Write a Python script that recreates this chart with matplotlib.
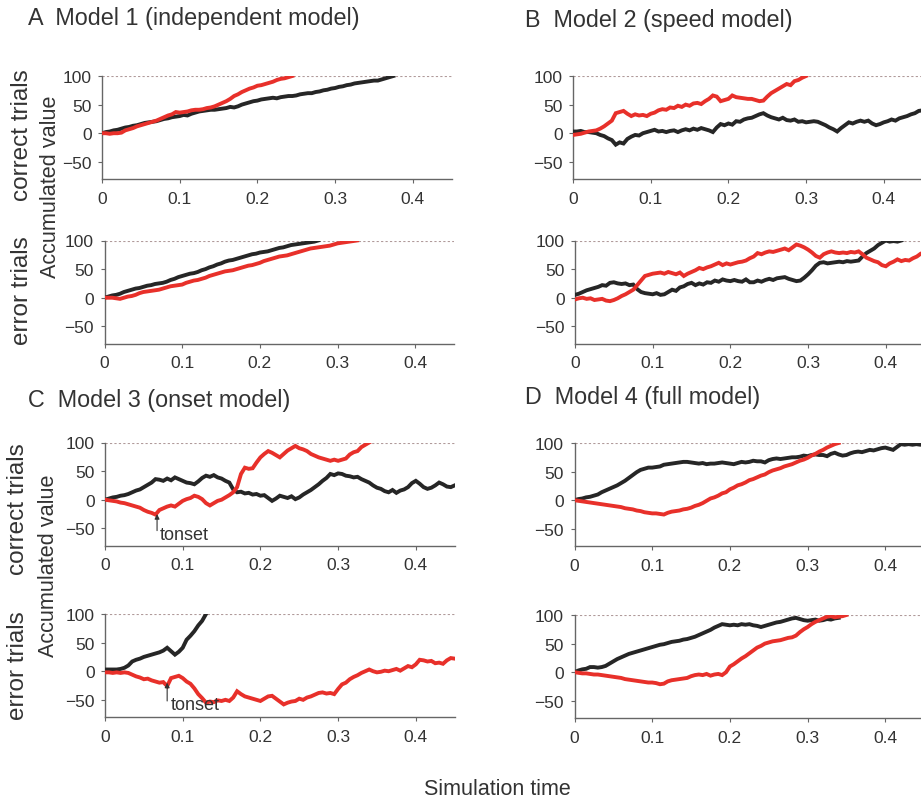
import numpy as np
import matplotlib
matplotlib.use("Agg")
import matplotlib.pyplot as plt

plt.rcParams["font.family"] = ["Liberation Sans", "DejaVu Sans"]

DT = 0.005          # sampling step of the accumulators (s)
BOUND = 100         # decision threshold

# accumulated value traces, one sample every DT seconds from t = 0
# Model 1 (independent model)
m1_correct_black = [0, 2, 3, 5, 6, 8, 10, 11, 13, 14, 16, 18, 19, 20, 21, 23, 25, 26, 28, 29,
                    30, 32, 31, 34, 36, 38, 39, 40, 41, 41, 42, 43, 44, 46, 45, 47, 50, 52, 54, 56,
                    57, 59, 60, 61, 62, 61, 63, 64, 65, 65, 66, 68, 69, 70, 70, 72, 73, 75, 76, 78,
                    79, 81, 82, 84, 85, 87, 88, 89, 90, 91, 92, 92, 94, 96, 98, 100]
m1_correct_red = [0, 0, -1, 0, 0, 1, 5, 7, 9, 12, 14, 16, 18, 20, 22, 25, 28, 31, 33, 37,
                  36, 37, 38, 40, 41, 41, 42, 44, 45, 47, 50, 53, 56, 60, 65, 68, 72, 75, 78, 80,
                  83, 84, 86, 88, 90, 93, 95, 96, 98, 100]
m1_error_black = [0, 2, 4, 5, 7, 10, 12, 14, 16, 17, 19, 21, 22, 24, 25, 26, 28, 31, 33, 36,
                  38, 40, 42, 43, 45, 48, 50, 53, 55, 58, 60, 63, 65, 66, 68, 70, 72, 74, 76, 77,
                  79, 80, 81, 83, 85, 87, 88, 90, 92, 93, 94, 95, 96, 97, 98, 100]
m1_error_red = [0, 0, 0, -1, -2, 0, 2, 3, 5, 8, 10, 11, 12, 13, 14, 16, 18, 20, 21, 22,
                23, 26, 28, 30, 31, 33, 35, 38, 40, 42, 44, 46, 47, 48, 50, 52, 54, 56, 57, 59,
                61, 64, 66, 68, 70, 72, 73, 74, 76, 78, 80, 82, 84, 86, 87, 88, 89, 90, 91, 93,
                95, 96, 97, 98, 99, 100]

# Model 2 (speed model)
m2_correct_black = [3, 3, 4, 2, 2, 1, 0, -3, -5, -9, -12, -20, -16, -18, -10, -6, -3, -4, 0, 2,
                    4, 6, 3, 4, 2, 4, 5, 2, 5, 7, 5, 8, 6, 9, 7, 5, 2, 10, 16, 14,
                    17, 15, 21, 20, 24, 26, 27, 30, 33, 35, 31, 28, 26, 24, 27, 23, 22, 24, 20, 21,
                    19, 20, 21, 20, 17, 14, 10, 7, 3, 9, 14, 19, 17, 20, 22, 20, 22, 17, 14, 16,
                    19, 21, 24, 22, 26, 28, 30, 33, 35, 39, 40]
m2_correct_red = [-3, -2, -1, 1, 3, 4, 5, 8, 12, 17, 22, 35, 37, 39, 34, 30, 33, 31, 32, 30,
                  34, 36, 40, 42, 41, 45, 44, 48, 46, 50, 48, 52, 53, 51, 56, 60, 66, 64, 56, 58,
                  60, 66, 63, 62, 61, 60, 60, 58, 56, 57, 64, 70, 74, 78, 82, 86, 84, 91, 93, 97,
                  100]
m2_error_black = [5, 7, 10, 13, 15, 17, 19, 22, 21, 26, 27, 25, 24, 25, 22, 23, 15, 10, 8, 7,
                  6, 8, 5, 6, 10, 14, 12, 18, 20, 24, 26, 22, 25, 23, 27, 26, 30, 28, 32, 30,
                  29, 31, 29, 28, 32, 27, 27, 30, 28, 31, 33, 31, 34, 35, 36, 33, 31, 29, 30, 35,
                  41, 48, 56, 61, 62, 60, 61, 62, 63, 62, 64, 63, 64, 65, 72, 78, 82, 86, 92, 96,
                  100, 98, 99, 98, 100]
m2_error_red = [-3, -1, 0, -2, -1, -4, -3, -2, -5, -6, -4, -1, 3, 6, 10, 14, 22, 30, 38, 40,
                42, 43, 44, 42, 45, 43, 41, 44, 38, 42, 45, 48, 52, 50, 53, 55, 58, 61, 57, 60,
                58, 60, 62, 63, 65, 69, 72, 78, 76, 79, 81, 80, 82, 84, 86, 83, 88, 93, 91, 88,
                84, 79, 73, 70, 76, 79, 81, 79, 78, 79, 78, 80, 79, 81, 76, 70, 67, 64, 62, 57,
                55, 60, 63, 67, 64, 66, 65, 69, 72, 77, 76]

# Model 3 (onset model)
m3_correct_black = [0, 2, 4, 5, 7, 8, 10, 13, 16, 18, 22, 26, 30, 36, 35, 33, 37, 34, 39, 36,
                    33, 30, 29, 27, 32, 38, 42, 40, 43, 39, 37, 33, 30, 18, 13, 14, 11, 12, 9, 10,
                    7, 8, 3, -2, 2, 7, 5, 3, 6, 1, 4, 9, 13, 17, 22, 27, 33, 38, 45, 43,
                    46, 45, 42, 41, 39, 40, 36, 33, 30, 25, 21, 19, 15, 13, 17, 12, 16, 18, 22, 29,
                    33, 28, 22, 19, 21, 25, 30, 27, 23, 22, 25]
m3_correct_red = [0, -1, -2, -3, -5, -6, -8, -10, -12, -14, -18, -21, -23, -26, -18, -15, -12, -10, -12, -7,
                  -2, 1, 3, 7, 5, 1, -6, -10, -6, -2, 0, 4, 8, 13, 22, 45, 56, 54, 55, 65,
                  74, 80, 85, 82, 78, 74, 80, 86, 90, 94, 90, 88, 85, 80, 77, 74, 72, 70, 68, 70,
                  68, 70, 72, 79, 83, 85, 92, 96, 100]
m3_error_black = [3, 3, 3, 3, 4, 6, 10, 17, 20, 22, 25, 27, 29, 31, 33, 36, 41, 35, 29, 34,
                  41, 55, 62, 70, 80, 88, 100]
m3_error_red = [-2, -2, -3, -2, -3, -2, -3, -6, -9, -11, -14, -13, -16, -18, -20, -19, -26, -12, -10, -8,
                -12, -18, -22, -30, -40, -47, -55, -53, -54, -51, -52, -50, -52, -46, -35, -40, -44, -46, -48, -50,
                -52, -48, -44, -43, -48, -53, -58, -55, -53, -52, -48, -50, -46, -44, -41, -38, -37, -39, -38, -40,
                -31, -23, -20, -14, -10, -7, -3, 0, 3, 0, -2, -1, 1, 0, 2, 4, 1, 5, 9, 7,
                12, 20, 19, 17, 18, 14, 15, 13, 19, 23, 22]

# Model 4 (full model)
m4_correct_black = [0, 2, 3, 5, 6, 8, 10, 14, 17, 20, 23, 26, 30, 34, 39, 44, 49, 53, 55, 57,
                    57, 58, 59, 62, 63, 64, 65, 66, 67, 67, 66, 65, 64, 65, 63, 64, 64, 65, 66, 65,
                    64, 63, 65, 67, 66, 67, 69, 68, 68, 66, 70, 72, 73, 72, 73, 74, 75, 75, 76, 78,
                    77, 79, 80, 79, 79, 77, 81, 83, 80, 78, 79, 82, 84, 85, 84, 86, 88, 87, 89, 91,
                    92, 90, 88, 93, 98, 97, 98, 97, 98, 97, 98]
m4_correct_red = [0, -1, -2, -3, -4, -5, -6, -7, -8, -9, -10, -11, -12, -14, -15, -16, -18, -19, -21, -22,
                  -23, -23, -24, -25, -22, -20, -19, -18, -16, -15, -13, -10, -8, -5, -1, 3, 5, 8, 12, 14,
                  19, 22, 26, 28, 31, 35, 37, 40, 43, 45, 49, 52, 54, 56, 59, 61, 63, 66, 69, 71,
                  74, 78, 81, 85, 88, 92, 95, 98, 100]
m4_error_black = [0, 3, 5, 6, 9, 9, 8, 9, 11, 15, 19, 23, 26, 29, 32, 34, 36, 38, 40, 42,
                  44, 46, 48, 49, 51, 53, 54, 55, 57, 58, 60, 62, 65, 68, 71, 74, 78, 81, 84, 83,
                  82, 83, 82, 84, 83, 84, 82, 81, 79, 81, 83, 85, 87, 88, 90, 92, 94, 95, 93, 91,
                  90, 91, 92, 90, 91, 93, 92, 94, 95]
m4_error_red = [0, -1, -2, -2, -3, -4, -4, -5, -6, -7, -8, -9, -10, -12, -13, -14, -15, -16, -17, -18,
                -18, -19, -21, -20, -16, -14, -13, -12, -11, -10, -7, -5, -4, -5, -3, -6, -4, -3, -5, 0,
                10, 14, 19, 24, 28, 33, 38, 43, 46, 50, 52, 54, 55, 56, 58, 60, 61, 64, 70, 75,
                79, 84, 88, 91, 94, 97, 98, 96, 97, 98, 100]

titles = ["A  Model 1 (independent model)", "B  Model 2 (speed model)",
          "C  Model 3 (onset model)", "D  Model 4 (full model)"]

x_ticks = [0, 0.1, 0.2, 0.3, 0.4]
x_tick_labels = ["0", "0.1", "0.2", "0.3", "0.4"]
y_ticks = [-50, 0, 50, 100]

# onset arrows in model 3: (time, trace value at the tip, value at the tail)
onset_correct = (0.067, -25, -54)
onset_error = (0.080, -20, -52)

BLACK = "#262626"
RED = "#e8302a"
GREY = "#666666"
TEXT = "#333333"

W, H = 921, 803
fig = plt.figure(figsize=(W / 100, H / 100), dpi=100)


def px_axes(left, top, bottom, width=0.45 * 777):
    return fig.add_axes([left / W, 1 - bottom / H, width / W, (bottom - top) / H])


def draw_panel(ax, black, red):
    t_black = np.arange(len(black)) * DT
    t_red = np.arange(len(red)) * DT
    ax.axhline(BOUND, color="#b09a9a", lw=0.8, ls=(0, (2, 2)), zorder=1)
    ax.plot(t_black, black, color=BLACK, lw=2.8, solid_joinstyle="miter", zorder=3)
    ax.plot(t_red, red, color=RED, lw=2.8, solid_joinstyle="miter", zorder=3)
    ax.set_xlim(0, 0.45)
    ax.set_ylim(-80, 100)
    ax.set_xticks(x_ticks)
    ax.set_xticklabels(x_tick_labels)
    ax.set_yticks(y_ticks)
    for side in ("top", "right"):
        ax.spines[side].set_visible(False)
    for side in ("left", "bottom"):
        ax.spines[side].set_color(GREY)
        ax.spines[side].set_linewidth(1.0)
    ax.tick_params(direction="out", length=3, width=0.8, color=GREY,
                   labelsize=12.5, labelcolor=TEXT)
    ax.tick_params(axis="x", pad=5.5)
    ax.tick_params(axis="y", pad=4.5)
    ax.patch.set_alpha(0)


panels = [
    (px_axes(102, 77, 180), m1_correct_black, m1_correct_red),
    (px_axes(104.5, 241.5, 344.5), m1_error_black, m1_error_red),
    (px_axes(573, 77, 180), m2_correct_black, m2_correct_red),
    (px_axes(575, 241.5, 344.5), m2_error_black, m2_error_red),
    (px_axes(105, 443.5, 546.5), m3_correct_black, m3_correct_red),
    (px_axes(105, 615, 718), m3_error_black, m3_error_red),
    (px_axes(574.5, 444, 547), m4_correct_black, m4_correct_red),
    (px_axes(574.5, 616, 719), m4_error_black, m4_error_red),
]
for ax, black, red in panels:
    draw_panel(ax, black, red)

# onset markers on the model 3 red traces
for ax, (t0, tip, tail) in ((panels[4][0], onset_correct), (panels[5][0], onset_error)):
    ax.annotate("", xy=(t0, tip), xytext=(t0, tail),
                arrowprops=dict(arrowstyle="-|>", color=TEXT, lw=0.8,
                                mutation_scale=7, shrinkA=0, shrinkB=0), zorder=4)
    ax.text(t0 + 0.004, tail - 6, "tonset", fontsize=13, color=TEXT,
            ha="left", va="center", zorder=4)

# panel titles
title_pos = [(28, 18), (525, 20), (28, 401), (525, 398)]
for (x, y), title in zip(title_pos, titles):
    fig.text(x / W, 1 - y / H, title, fontsize=16.8, color=TEXT, ha="left", va="center")

# row labels
for y_corr, y_err, y_acc, x_row, x_acc in ((135, 291, 187, 22, 50), (509, 666, 566, 18, 48)):
    fig.text(x_row / W, 1 - y_corr / H, "correct trials", rotation=90, fontsize=17.5,
             color=TEXT, ha="center", va="center")
    fig.text(x_row / W, 1 - y_err / H, "error trials", rotation=90, fontsize=17.5,
             color=TEXT, ha="center", va="center")
    fig.text(x_acc / W, 1 - y_acc / H, "Accumulated value", rotation=90, fontsize=15.6,
             color=TEXT, ha="center", va="center")

fig.text(497 / W, 1 - 790 / H, "Simulation time", fontsize=15.5, color=TEXT,
         ha="center", va="center")

fig.savefig("out.png", dpi=100, facecolor="white")
